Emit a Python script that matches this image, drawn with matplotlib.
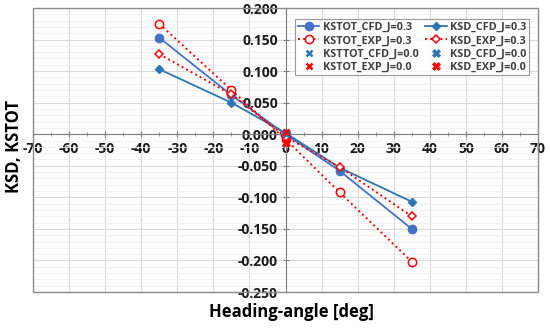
import matplotlib
matplotlib.use("Agg")
import matplotlib.pyplot as plt
from matplotlib.ticker import MultipleLocator, FuncFormatter
from matplotlib.patches import Rectangle

angles = [-35, -15, 0, 15, 35]
kstot_cfd_j03 = [0.153, 0.062, 0.000, -0.058, -0.150]
kstot_exp_j03 = [0.175, 0.070, -0.008, -0.092, -0.202]
ksd_cfd_j03 = [0.103, 0.050, 0.002, -0.053, -0.107]
ksd_exp_j03 = [0.127, 0.063, -0.004, -0.052, -0.130]
angle_j00 = [0]
kstot_cfd_j00 = [0.001]
ksd_cfd_j00 = [0.002]
kstot_exp_j00 = [0.004]
ksd_exp_j00 = [-0.014]

plt.rcParams['font.family'] = ['Open Sans', 'DejaVu Sans']
plt.rcParams['font.weight'] = 'bold'

fig = plt.figure(figsize=(5.5, 3.28), dpi=100)
ax = fig.add_axes([33/550, 1-292/328, (538-33)/550, (292-8)/328])

ax.set_xlim(-70, 70)
ax.set_ylim(-0.25, 0.2)

ax.xaxis.set_major_locator(MultipleLocator(10))
ax.xaxis.set_minor_locator(MultipleLocator(5))
ax.yaxis.set_major_locator(MultipleLocator(0.05))
ax.yaxis.set_minor_locator(MultipleLocator(0.01))
ax.grid(which='major', color='#D9D9D9', lw=0.8, zorder=0)
ax.grid(which='minor', axis='y', color='#EFEFEF', lw=0.6, zorder=0)
ax.set_axisbelow(True)

ax.yaxis.set_major_formatter(FuncFormatter(lambda v, p: f"{v:.3f}"))
ax.xaxis.set_major_formatter(FuncFormatter(lambda v, p: f"{v:.0f}"))

for s in ['top', 'right']:
    ax.spines[s].set_visible(False)
ax.spines['left'].set_position(('data', 0))
ax.spines['bottom'].set_position(('data', 0))
ax.spines['left'].set_color('#7F7F7F')
ax.spines['bottom'].set_color('#7F7F7F')
ax.add_patch(Rectangle((0, 0), 1, 1, transform=ax.transAxes, fill=False,
                       edgecolor='#8C8C8C', lw=1.0, clip_on=False, zorder=5))

ax.tick_params(which='major', direction='inout', length=5, color='#7F7F7F',
               labelsize=10, pad=3, labelcolor='#1A1A1A')
ax.tick_params(which='minor', direction='inout', length=3, color='#7F7F7F')
ax.tick_params(axis='y', which='minor', length=0)

c_kstot = '#4472C4'
c_ksd = '#2E75B6'
red = '#FF0000'

ax.plot(angles, kstot_cfd_j03, '-o', color=c_kstot, lw=1.3, ms=6,
        label='KSTOT_CFD_J=0.3', zorder=3)
ax.plot(angles, ksd_cfd_j03, '-D', color=c_ksd, lw=1.3, ms=4.2,
        label='KSD_CFD_J=0.3', zorder=3)
ax.plot(angles, kstot_exp_j03, ':o', color=red, lw=1.4, ms=6, mfc='white',
        mew=1.1, label='KSTOT_EXP_J=0.3', zorder=3)
ax.plot(angles, ksd_exp_j03, ':D', color=red, lw=1.4, ms=4.3, mfc='white',
        mew=1.1, label='KSD_EXP_J=0.3', zorder=3)
ax.plot(angle_j00, kstot_cfd_j00, 'x', color=c_ksd, ms=5, mew=1.8,
        label='KSTTOT_CFD_J=0.0', zorder=4)
ax.plot(angle_j00, ksd_cfd_j00, 'X', color=c_ksd, ms=5.5, mew=0.5,
        label='KSD_CFD_J=0.0', zorder=4)
ax.plot(angle_j00, kstot_exp_j00, 'x', color=red, ms=5, mew=1.8,
        label='KSTOT_EXP_J=0.0', zorder=4)
ax.plot(angle_j00, ksd_exp_j00, 'X', color=red, ms=5.5, mew=0.5,
        label='KSD_EXP_J=0.0', zorder=4)

handles, labels = ax.get_legend_handles_labels()
order = [0, 2, 4, 6, 1, 3, 5, 7]
leg = ax.legend([handles[i] for i in order], [labels[i] for i in order],
                ncol=2, loc='upper right', bbox_to_anchor=(0.982, 0.96),
                prop={'size': 7.8, 'weight': 'bold'},
                frameon=True, fancybox=False, borderpad=0.25,
                handlelength=2.0, handletextpad=0.3, columnspacing=0.6,
                labelspacing=0.2, borderaxespad=0)
leg.get_frame().set_edgecolor('#7F7F7F')
leg.get_frame().set_linewidth(0.8)
for t in leg.get_texts():
    t.set_color('#404040')

fig.canvas.draw()
for lab in ax.get_xticklabels() + ax.get_yticklabels():
    lab.set_fontweight('bold')

fig.text(14/550, 1-146/328, 'KSD, KSTOT', rotation=90, ha='center', va='center',
         fontsize=12, fontweight='bold')
fig.text(291/550, 1-312/328, 'Heading-angle [deg]', ha='center', va='center',
         fontsize=12, fontweight='bold')

fig.savefig('out.png', dpi=100)
